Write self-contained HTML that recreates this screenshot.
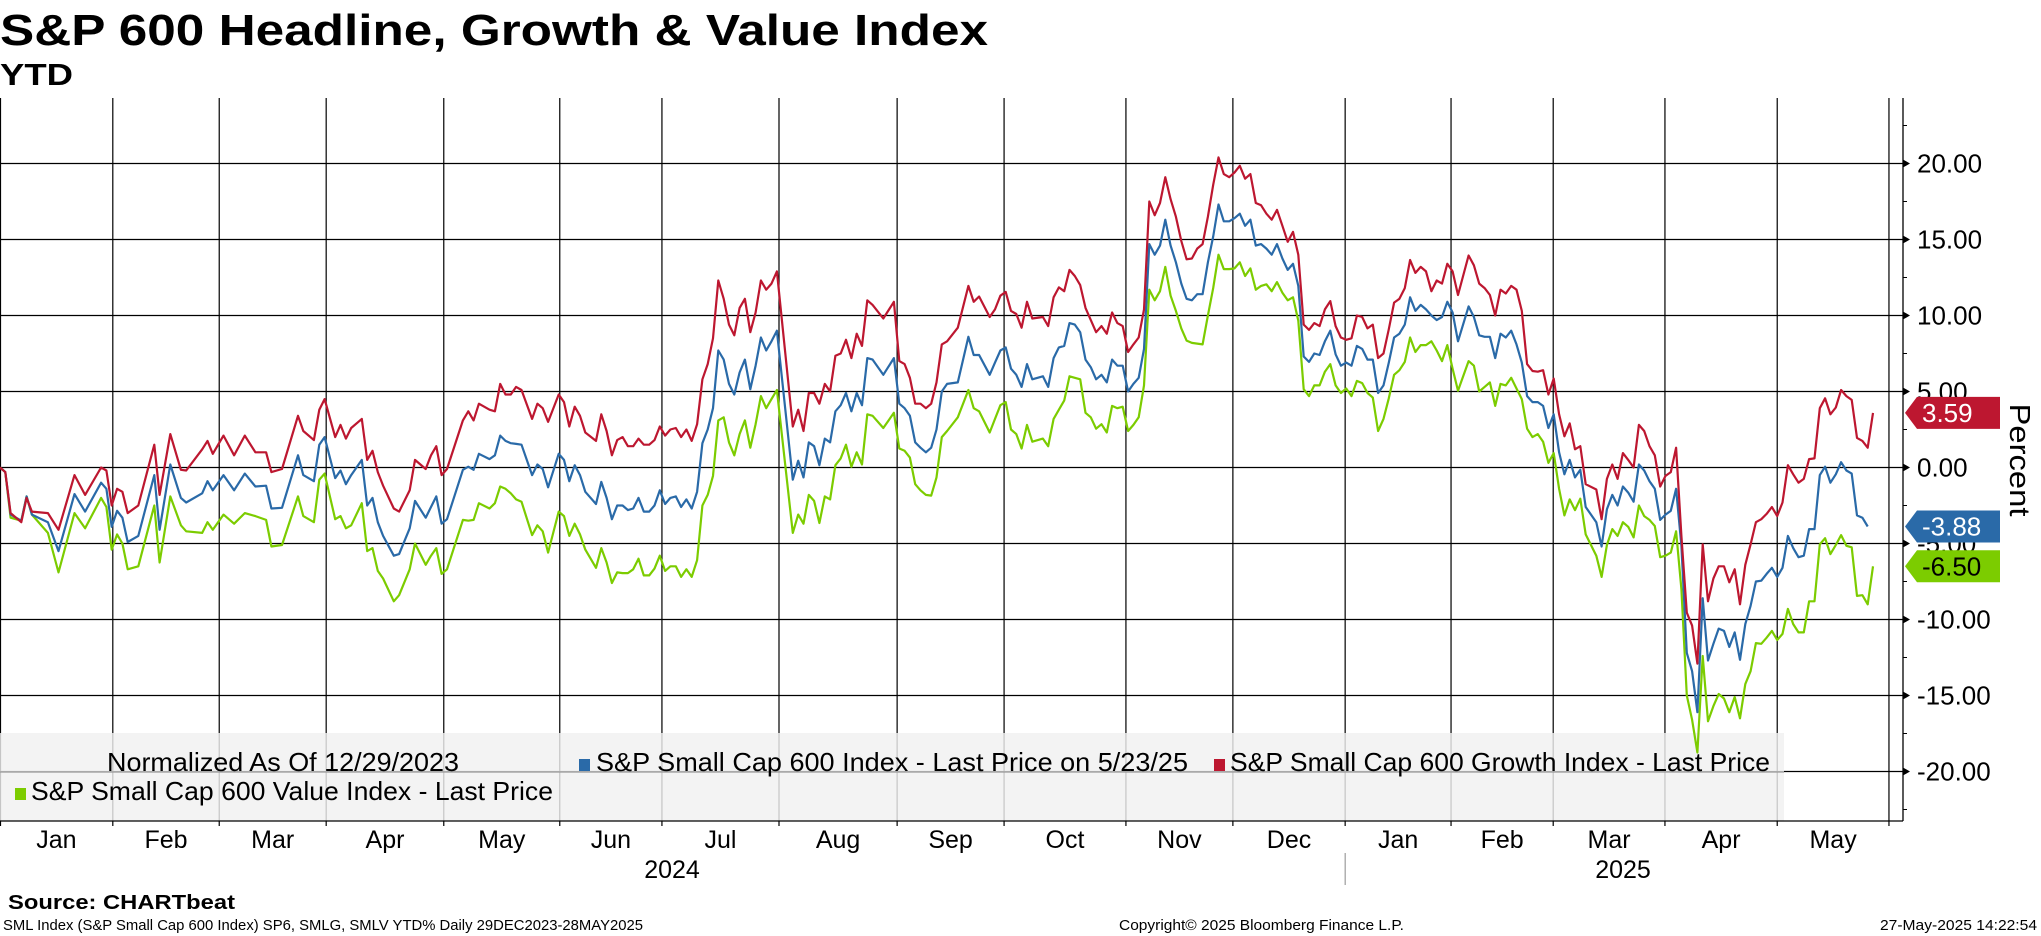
<!DOCTYPE html>
<html><head><meta charset="utf-8">
<style>
html,body{margin:0;padding:0;background:#fff;}
svg{display:block;}
text{font-family:"Liberation Sans","DejaVu Sans",sans-serif;}
</style></head>
<body>
<svg id="chart" width="2041" height="936" viewBox="0 0 2041 936" xmlns="http://www.w3.org/2000/svg">
  <text x="0" y="45" font-size="44" font-weight="bold" textLength="988" lengthAdjust="spacingAndGlyphs">S&amp;P 600 Headline, Growth &amp; Value Index</text>
  <text x="0" y="85" font-size="31" font-weight="bold" textLength="73" lengthAdjust="spacingAndGlyphs">YTD</text>
  <g id="grid"></g>
  <g id="legendBg"></g>
  <g id="series"></g>
  <g id="axes"></g>
  <g id="legend"></g>
  <g id="badges"></g>
  <text x="8" y="909" font-size="20" font-weight="bold" textLength="227" lengthAdjust="spacingAndGlyphs">Source: CHARTbeat</text>
  <text x="3" y="930" font-size="15" textLength="640" lengthAdjust="spacingAndGlyphs">SML Index (S&amp;P Small Cap 600 Index) SP6, SMLG, SMLV YTD%  Daily 29DEC2023-28MAY2025</text>
  <text x="1119" y="930" font-size="15" textLength="285" lengthAdjust="spacingAndGlyphs">Copyright© 2025 Bloomberg Finance L.P.</text>
  <text x="1880" y="930" font-size="15" textLength="157" lengthAdjust="spacingAndGlyphs">27-May-2025 14:22:54</text>
</svg>
<script>
// ---- data (trading sessions since 12/29/2023, YTD %) ----
const days = [0,1,2,4,5,6,9,11,14,16,19,20,21,22,23,24,26,29,30,32,34,35,38,39,40,42,44,46,48,50,51,53,56,57,59,60,61,63,64,65,66,68,69,70,71,72,74,75,77,78,80,81,82,83,84,87,88,
89,90,92,93,94,95,96,97,98,100,101,102,103,105,106,107,108,109,110,112,113,114,115,116,117,118,119,120,121,122,123,124,125,126,127,128,129,130,131,132,133,134,135,136,137,138,139,140,141,142,143,144,145,146,149,150,151,152,153,154,155,156,157,158,159,160,161,162,163,164,166,168,169,170,171,172,173,174,175,176,177,178,
180,182,183,184,186,187,188,189,190,191,192,193,194,196,197,198,199,200,201,202,203,204,205,206,207,208,209,210,211,212,213,214,215,216,217,218,219,220,221,222,223,224,225,226,227,228,229,230,231,232,233,234,235,236,237,238,239,240,241,242,243,244,245,246,247,248,249,250,251,252,253,254,255,256,257,258,259,260,261,262,263,264,265,266,267,
268,269,270,271,272,273,274,276,277,278,279,280,281,282,283,284,285,286,287,288,289,290,291,292,293,294,295,296,297,298,300,301,302,303,304,305,306,307,308,309,310,311,312,313,314,315,316,317,318,319,320,321,322,323,324,325,326,327,328,329,330,331,332,333,334,335,336,337,338,339,340,341,342,343,344,345,346,347,348,349,350,351,352];
const growth = [0,-0.3,-3.0,-3.6,-2.0,-2.9,-3.0,-4.1,-0.5,-1.8,0,-0.2,-2.5,-1.4,-1.6,-3.0,-2.5,1.5,-1.8,2.2,-0.15,-0.2,1.2,1.75,0.9,2.1,0.8,2.1,1.0,1.0,-0.3,-0.1,3.4,2.4,1.8,3.8,4.5,2.0,2.8,1.9,2.6,3.2,0.5,1.1,-0.3,-1.2,-2.7,-2.9,-1.5,0.5,-0.1,0.8,1.4,-0.5,-0.1,3.1,3.7,
3.1,4.2,3.8,3.7,5.5,4.8,4.8,5.3,5.1,3.2,4.2,3.9,3.0,4.8,4.3,2.7,4.0,3.4,2.3,1.75,3.5,2.4,0.8,1.8,2.0,1.4,1.4,1.9,1.5,1.5,1.8,2.7,2.1,2.5,2.6,2.0,2.5,1.75,2.85,5.8,6.8,8.5,12.3,11.1,9.4,8.7,10.5,11.1,8.9,10.2,12.3,11.7,12.1,12.9,2.7,3.8,2.4,4.9,4.9,4.2,5.5,5.0,7.35,7.5,8.4,7.2,8.8,8.0,11.0,10.7,9.8,10.9,7.0,6.8,5.9,4.2,4.2,3.9,4.2,5.6,8.1,8.3,
9.2,11.95,10.9,11.25,9.9,10.4,11.3,11.55,10.3,10.1,9.2,10.9,9.8,9.9,9.3,11.2,11.85,11.6,13.0,12.6,12.0,10.5,9.7,8.9,9.3,8.8,10.2,9.5,9.3,7.6,8.1,8.55,10.4,17.5,16.6,17.4,19.1,17.65,16.5,14.9,13.7,13.75,14.4,14.7,16.5,18.6,20.4,19.3,19.1,19.4,19.85,19.0,19.3,17.4,17.25,16.7,16.3,16.95,15.9,14.85,15.5,14.0,9.4,9.05,9.5,9.3,10.4,10.95,9.3,8.55,8.4,8.5,10.0,9.9,9.15,9.4,7.2,7.5,9.1,10.85,11.1,11.8,13.65,12.8,13.2,
12.9,11.6,12.3,12.1,13.4,12.9,11.35,13.95,13.3,12.1,11.8,11.35,10.0,11.7,11.45,11.95,11.7,10.3,6.8,6.35,6.3,6.4,4.8,5.85,3.5,2.05,2.9,1.2,1.4,-1.1,-1.45,-3.4,-0.75,0.2,-0.75,0.95,0.5,0,2.8,2.4,1.4,0.8,-1.25,-0.55,-0.3,1.3,-4.5,-9.55,-10.4,-12.9,-5.05,-8.8,-7.3,-6.5,-6.5,-7.55,-6.7,-9.0,-6.4,-5.05,-3.6,-3.4,-3.05,-2.6,-3.2,-2.3,0.15,-0.45,-1.0,-0.75,0.55,0.6,3.9,4.55,3.5,3.95,5.1,4.7,4.45,1.95,1.75,1.3,3.59];
const headline = [0,-0.3,-3.1,-3.5,-1.9,-3.1,-3.6,-5.5,-1.75,-2.9,-1.0,-1.4,-3.9,-2.85,-3.3,-4.9,-4.5,-0.5,-4.1,0.2,-2.0,-2.3,-1.7,-0.9,-1.5,-0.5,-1.5,-0.4,-1.25,-1.2,-2.7,-2.65,0.8,-0.5,-0.9,1.5,2.0,-0.7,-0.2,-1.1,-0.5,0.5,-2.5,-2.0,-3.6,-4.5,-5.8,-5.7,-4.0,-2.2,-3.3,-2.6,-1.9,-3.7,-3.4,-0.15,0.05,
-0.15,0.9,0.55,0.8,2.1,1.75,1.6,1.55,1.5,-0.5,0.2,-0.1,-1.3,0.9,0.5,-0.9,0.15,-0.5,-1.6,-2.4,-0.95,-2.0,-3.4,-2.5,-2.5,-2.8,-2.7,-2.0,-2.9,-2.9,-2.5,-1.5,-2.4,-2.0,-1.9,-2.6,-2.1,-2.7,-1.6,1.6,2.5,3.9,7.7,7.1,5.5,4.8,6.25,7.1,5.15,6.7,8.55,7.7,8.3,9.0,-0.8,0.45,-0.65,1.65,1.4,0.15,1.9,1.65,3.7,4.1,4.9,3.7,4.9,4.1,7.2,7.1,6.1,7.2,4.2,3.9,3.4,1.65,1.3,1.0,1.3,2.5,5.0,5.5,
5.6,8.6,7.4,7.4,6.1,6.9,7.7,7.9,6.5,6.1,5.3,6.8,5.8,6.0,5.3,7.2,7.9,8.0,9.5,9.4,8.9,7.1,6.6,5.8,6.1,5.6,7.1,6.7,6.7,5.0,5.5,5.9,7.8,14.7,14.0,14.6,16.3,14.6,13.5,12.1,11.1,11.0,11.4,11.4,13.5,15.2,17.3,16.2,16.2,16.4,16.7,15.9,16.3,14.6,14.7,14.4,14.0,14.7,13.75,13.0,13.4,11.95,7.3,6.95,7.5,7.4,8.3,9.0,7.45,6.7,6.9,6.7,8.0,7.8,7.1,7.1,4.9,5.4,6.9,8.55,8.8,9.4,11.2,10.3,10.7,
10.4,10.0,9.7,9.9,10.9,10.2,8.3,10.6,9.9,8.7,8.6,8.6,7.2,8.8,8.55,9.0,8.1,6.9,4.7,4.3,4.3,4.05,2.6,3.5,1.0,-0.45,0.5,-0.65,-0.15,-2.6,-3.6,-5.2,-2.75,-1.8,-2.5,-1.25,-1.65,-2.25,0.2,-0.2,-0.9,-1.4,-3.45,-3.1,-2.85,-1.4,-5.15,-12.2,-13.4,-16.1,-8.6,-12.7,-11.6,-10.6,-10.75,-11.8,-10.85,-12.65,-10.3,-9.1,-7.5,-7.45,-7.0,-6.6,-7.2,-6.6,-4.5,-5.3,-5.9,-5.8,-4.05,-4.05,-0.5,0.05,-1.0,-0.45,0.35,-0.2,-0.4,-3.15,-3.3,-3.88,null];
const value = [0,-0.3,-3.3,-3.5,-1.9,-3.1,-4.3,-6.9,-3.0,-4.0,-2.0,-2.6,-5.4,-4.4,-5.0,-6.7,-6.5,-2.5,-6.25,-1.9,-3.8,-4.2,-4.3,-3.6,-4.1,-3.1,-3.7,-3.0,-3.2,-3.45,-5.2,-5.1,-1.9,-3.2,-3.6,-0.8,-0.4,-3.4,-3.2,-4.0,-3.8,-2.35,-5.5,-5.3,-6.8,-7.3,-8.8,-8.4,-6.7,-5.0,-6.4,-5.8,-5.3,-7.0,-6.7,-3.45,-3.5,
-3.45,-2.35,-2.7,-2.35,-1.25,-1.4,-1.7,-2.1,-2.25,-4.45,-3.8,-4.2,-5.6,-2.9,-3.2,-4.5,-3.7,-4.4,-5.4,-6.6,-5.3,-6.25,-7.6,-6.9,-6.95,-6.95,-6.7,-6.0,-7.1,-7.1,-6.65,-5.8,-6.8,-6.5,-6.5,-7.2,-6.7,-7.2,-6.1,-2.5,-1.8,-0.55,3.1,3.3,1.65,0.8,2.2,3.1,1.3,2.85,4.7,3.9,4.5,5.1,-4.3,-3.1,-3.7,-1.8,-2.2,-3.65,-1.9,-2.1,0.15,0.6,1.5,0.05,1.0,0.2,3.5,3.4,2.6,3.6,1.25,1.1,0.65,-1.1,-1.5,-1.8,-1.85,-0.65,2.0,2.4,
3.3,5.1,3.9,3.7,2.3,3.2,4.1,4.3,2.5,2.2,1.25,2.8,1.7,1.9,1.4,3.2,3.8,4.4,6.0,5.9,5.8,3.6,3.3,2.55,2.85,2.3,4.05,3.9,4.0,2.4,2.8,3.3,5.4,11.7,11.0,11.6,13.2,11.3,10.3,9.15,8.35,8.2,8.15,8.1,10.0,11.8,14.0,13.05,13.05,13.1,13.5,12.6,13.1,11.7,11.95,12.05,11.6,12.2,11.5,11.0,11.2,9.65,5.15,4.7,5.4,5.4,6.3,6.8,5.4,4.9,5.2,4.7,5.7,5.55,4.9,4.6,2.4,3.2,4.55,6.1,6.4,6.95,8.55,7.6,8.05,
8.05,8.3,7.7,7.0,8.05,6.5,5.05,7.0,6.7,5.0,5.3,5.6,4.05,5.5,5.4,5.9,5.2,4.5,2.55,2.0,2.2,1.7,0.3,0.95,-1.4,-3.15,-2.1,-2.8,-2.05,-4.4,-5.8,-7.2,-5.1,-4.05,-4.5,-3.6,-3.9,-4.6,-2.5,-3.2,-3.45,-3.85,-5.9,-5.8,-5.6,-4.2,-8.0,-15.0,-16.6,-18.75,-12.4,-16.7,-15.7,-14.9,-15.2,-16.1,-15.1,-16.5,-14.25,-13.4,-11.55,-11.6,-11.2,-10.75,-11.35,-10.95,-9.3,-10.3,-10.85,-10.85,-8.8,-8.8,-5.05,-4.65,-5.7,-5.1,-4.45,-5.15,-5.25,-8.45,-8.4,-9.0,-6.5];
const monthBoundaries = [21.2,41.2,61.3,83.4,105.2,124.4,146.4,168.6,188.7,211.6,231.7,252.8,272.7,291.9,312.9,334.0,355.0];
const monthLabels = ["Jan","Feb","Mar","Apr","May","Jun","Jul","Aug","Sep","Oct","Nov","Dec","Jan","Feb","Mar","Apr","May"];
const yTicks = [20,15,10,5,0,-5,-10,-15,-20];
const yTickLabels = ["20.00","15.00","10.00","5.00","0.00","-5.00","-10.00","-15.00","-20.00"];
const yMinor = [22.5,17.5,12.5,7.5,2.5,-2.5,-7.5,-12.5,-17.5,-22.5];
const lastValues = ["3.59","-3.88","-6.50"];
const lastNums = [3.59,-3.88,-6.50];

// ---- scales ----
const NS = "http://www.w3.org/2000/svg";
const PLOT_L = 0, PLOT_T = 98, PLOT_B = 821, AXIS_X = 1903;
const DAY_W = 1873/352;
function xs(d){ return PLOT_L + d*DAY_W; }
function ys(v){ return 467.5 - v*15.2; }
function mk(tag, attrs, parent){
  const el = document.createElementNS(NS, tag);
  for (const k in attrs) el.setAttribute(k, attrs[k]);
  parent.appendChild(el);
  return el;
}
const grid = document.getElementById('grid');
const axes = document.getElementById('axes');
const seriesG = document.getElementById('series');
const legendBg = document.getElementById('legendBg');
const legend = document.getElementById('legend');
const badges = document.getElementById('badges');

// horizontal grid
yTicks.forEach((v,i)=>{
  const l = mk('line',{x1:PLOT_L,x2:AXIS_X,y1:ys(v),y2:ys(v),stroke:'#000','stroke-width':1.3},grid);
  
  
});
// vertical month lines
const starts = [0].concat(monthBoundaries);
mk('line',{x1:0.5,x2:0.5,y1:PLOT_T,y2:PLOT_B+5,stroke:'#000','stroke-width':1.2},grid);
monthBoundaries.forEach(b=>{
  const l = mk('line',{x1:xs(b),x2:xs(b),y1:PLOT_T,y2:PLOT_B+5,stroke:'#000','stroke-width':1.2},grid);
  
  
});

// legend background (semi-transparent)
const lb = mk('rect',{x:0,y:733,width:1784,height:88,fill:'#f0f0f0','fill-opacity':0.82},legendBg);


mk('line',{x1:0,x2:1784,y1:772,y2:772,stroke:'#999','stroke-width':1.2},legendBg);

// series
function drawSeries(vals, color, name){
  let d = '', started = false;
  vals.forEach((v,i)=>{
    if (v === null) return;
    d += (started ? 'L' : 'M') + xs(days[i]).toFixed(1) + ' ' + ys(v).toFixed(1) + ' ';
    started = true;
  });
  const p = mk('path',{d:d,fill:'none',stroke:color,'stroke-width':2.2,'stroke-linejoin':'round'},seriesG);
  
  
}
drawSeries(value,'#7ccc00','value-index-line');
drawSeries(headline,'#2a6aa8','headline-index-line');
drawSeries(growth,'#bd1730','growth-index-line');

// axes
mk('line',{x1:0,x2:AXIS_X,y1:PLOT_B,y2:PLOT_B,stroke:'#000','stroke-width':1.3},axes);
mk('line',{x1:AXIS_X,x2:AXIS_X,y1:PLOT_T,y2:PLOT_B,stroke:'#000','stroke-width':1.3},axes);
yMinor.forEach(v=>{
  mk('line',{x1:AXIS_X,x2:AXIS_X+4,y1:ys(v),y2:ys(v),stroke:'#000','stroke-width':1},axes);
});
yTicks.forEach((v,i)=>{
  const y = ys(v);
  mk('path',{d:`M${AXIS_X} ${y-4} L${AXIS_X+7} ${y} L${AXIS_X} ${y+4}Z`,fill:'#000'},axes);
  const t = mk('text',{x:1917,y:y+9,'font-size':26},axes);
  t.textContent = yTickLabels[i];
  
  
});
monthLabels.forEach((m,i)=>{
  const cx = (xs(starts[i]) + xs(starts[i+1]))/2;
  const t = mk('text',{x:cx,y:848,'font-size':25,'text-anchor':'middle'},axes);
  t.textContent = m;
  
  
});
const y24 = mk('text',{x:672,y:878,'font-size':25,'text-anchor':'middle'},axes);
y24.textContent = '2024';


const y25 = mk('text',{x:1623,y:878,'font-size':25,'text-anchor':'middle'},axes);
y25.textContent = '2025';


mk('line',{x1:xs(monthBoundaries[11]),x2:xs(monthBoundaries[11]),y1:853,y2:885,stroke:'#888','stroke-width':1},axes);
const pct = mk('text',{x:0,y:0,'font-size':29,'text-anchor':'middle',transform:'translate(2010,460) rotate(90)',textLength:113,lengthAdjust:'spacingAndGlyphs'},axes);
pct.textContent = 'Percent';



// legend entries
function legendEntry(x, y, color, label, tx, tw, name){
  if (color) mk('rect',{x:x,y:y-12,width:11,height:12,fill:color},legend);
  const t = mk('text',{x:tx,y:y,'font-size':26,textLength:tw,lengthAdjust:'spacingAndGlyphs'},legend);
  t.textContent = label;
  
  
}
legendEntry(0,771,null,'Normalized As Of 12/29/2023',107,352,'legend-normalized-note');
legendEntry(579,771,'#2a6aa8','S&P Small Cap 600 Index - Last Price on 5/23/25',596,592,'legend-entry-headline');
legendEntry(1214,771,'#bd1730','S&P Small Cap 600 Growth Index - Last Price',1230,540,'legend-entry-growth');
legendEntry(15,800,'#7ccc00','S&P Small Cap 600 Value Index - Last Price',31,522,'legend-entry-value');

// value badges
const badgeColors = ['#bd1730','#2a6aa8','#7ccc00'];
const badgeText = ['#fff','#fff','#000'];
lastNums.forEach((v,i)=>{
  const cy = ys(v);
  const p = mk('path',{d:`M1905 ${cy} L1917 ${cy-16} L2000 ${cy-16} L2000 ${cy+16} L1917 ${cy+16}Z`,fill:badgeColors[i]},badges);
  
  
  const t = mk('text',{x:1922,y:cy+9,'font-size':26,fill:badgeText[i]},badges);
  t.textContent = lastValues[i];
  
  
});
</script>
</body></html>
